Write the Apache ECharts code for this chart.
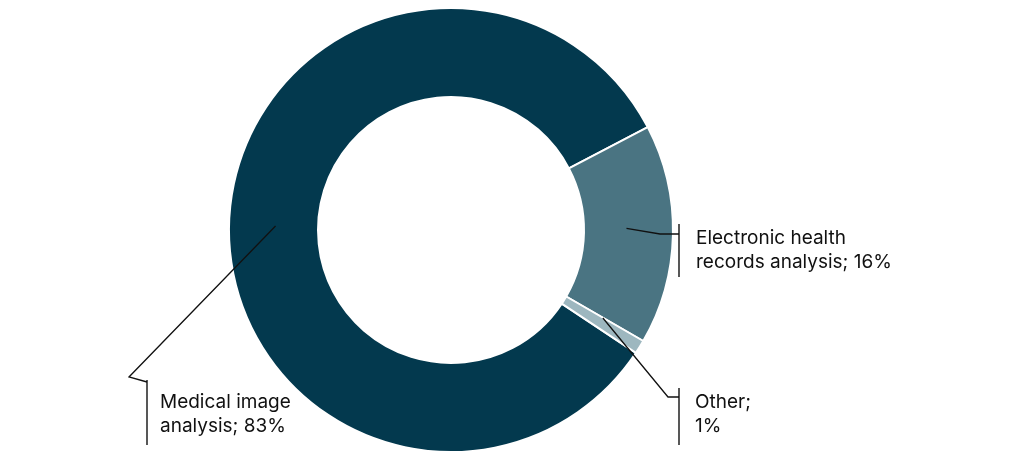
<!DOCTYPE html>
<html><head><meta charset="utf-8">
<script src="https://cdn.jsdelivr.net/npm/echarts@6/dist/echarts.min.js"></script>
<style>html,body{margin:0;padding:0;background:#fff}#c{width:1016px;height:460px}</style>
</head><body><div id="c"></div>
<script>
const categories = ['Medical image analysis', 'Electronic health records analysis', 'Other'];
const values = [83, 16, 1];
const labelTexts = ['Medical image\nanalysis; 83%', 'Electronic health\nrecords analysis; 16%', 'Other;\n1%'];
const colors = ['#03394e', '#4a7482', '#9db7bf'];

// label placement (annotation layout)
const labelPos = [
  {x: 160, y: 414, bend: [129, 377], end: [147, 382], bar: [147, 380, 445]},
  {x: 696, y: 250, bend: [660, 234], end: [679, 234], bar: [679, 224, 277]},
  {x: 695, y: 414, bend: [668, 397], end: [679, 397], bar: [679, 388, 445]}
];

const chart = echarts.init(document.getElementById('c'), null, {renderer: 'canvas'});
const textStyle = {fontFamily: 'Inter', fontSize: 19, color: '#111', lineHeight: 24};

const common = {
  type: 'pie',
  center: [451, 230],
  radius: [133, 222],
  startAngle: -33.6,
  clockwise: true,
  silent: true
};

chart.setOption({
  animation: false,
  graphic: labelPos.map(p => ({
    type: 'line', silent: true,
    shape: {x1: p.bar[0], y1: p.bar[1], x2: p.bar[0], y2: p.bar[2]},
    style: {stroke: '#111', lineWidth: 1.4}
  })),
  series: [
    Object.assign({}, common, {
      z: 1,
      itemStyle: {borderColor: '#fff', borderWidth: 2},
      label: {show: false},
      labelLine: {show: false},
      data: categories.map((c, i) => ({name: c, value: values[i], itemStyle: {color: colors[i]}}))
    }),
    Object.assign({}, common, {
      z: 10,
      itemStyle: {color: 'rgba(0,0,0,0)', borderWidth: 0},
      label: Object.assign({show: true, position: 'outside', align: 'left'}, textStyle),
      labelLine: {show: true, lineStyle: {color: '#111', width: 1.3}},
      labelLayout: function (params) {
        const i = params.dataIndex;
        const p = labelPos[i];
        const lay = chart.getModel().getSeriesByIndex(1).getData().getItemLayout(i);
        const mid = (lay.startAngle + lay.endAngle) / 2 - 0.03;
        const rm = (lay.r + lay.r0) / 2 - 2;
        const sx = lay.cx + rm * Math.cos(mid), sy = lay.cy + rm * Math.sin(mid);
        return {
          x: p.x, y: p.y, align: 'left', verticalAlign: 'middle',
          labelLinePoints: [[sx, sy], p.bend, p.end]
        };
      },
      data: categories.map((c, i) => ({name: c, value: values[i], label: {formatter: labelTexts[i]}}))
    })
  ]
});
</script></body></html>
